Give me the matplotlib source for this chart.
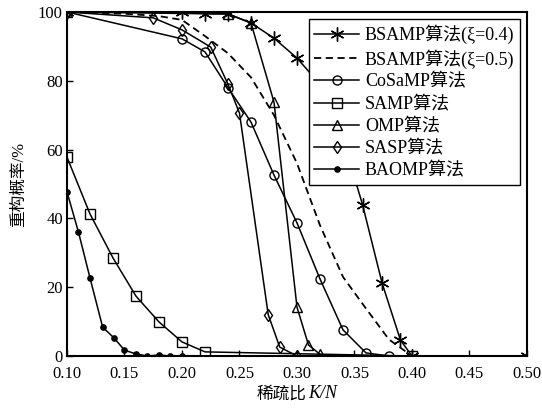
import matplotlib
matplotlib.use('Agg')
import matplotlib.pyplot as plt
from matplotlib.offsetbox import TextArea, HPacker, AnchoredOffsetbox
import numpy as np

plt.rcParams['font.family'] = ['Liberation Serif', 'Noto Sans CJK SC']

# 稀疏比 K/N 与重构概率 (%)
x_bs04 = [0.10, 0.20, 0.22, 0.24, 0.26, 0.28, 0.30, 0.32, 0.34, 0.357, 0.374, 0.39, 0.40, 0.50]
y_bs04 = [100, 100, 99.5, 99.5, 96.8, 92.4, 86.6, 79, 63, 44, 21.2, 4.6, 0, 0]

x_bs05 = [0.10, 0.15, 0.18, 0.20, 0.22, 0.24, 0.26, 0.28, 0.30, 0.32, 0.34, 0.36, 0.38, 0.40, 0.50]
y_bs05 = [100, 99.5, 98.8, 97.7, 93, 88, 81, 70, 56, 38, 23, 13.8, 4.8, 0, 0]

x_cosamp = [0.10, 0.20, 0.22, 0.24, 0.26, 0.28, 0.30, 0.32, 0.34, 0.36, 0.38]
y_cosamp = [100, 92.2, 88.4, 78, 68, 52.6, 38.7, 22.4, 7.6, 0.9, 0]

x_samp = [0.10, 0.12, 0.14, 0.16, 0.18, 0.20, 0.22, 0.40]
y_samp = [57.8, 41.3, 28.5, 17.4, 9.9, 4.1, 1.2, 0]

x_omp = [0.10, 0.24, 0.26, 0.28, 0.30, 0.31, 0.32]
y_omp = [100, 99.4, 96.8, 73.8, 14.2, 3.2, 0.5]

x_sasp = [0.10, 0.175, 0.20, 0.225, 0.24, 0.25, 0.275, 0.285, 0.30]
y_sasp = [100, 98.3, 94.8, 89.8, 79, 70.6, 12, 2.6, 0]

x_baomp = [0.10, 0.11, 0.12, 0.131, 0.141, 0.15, 0.16, 0.17, 0.18, 0.19, 0.20]
y_baomp = [47.7, 36, 22.7, 8.4, 5.2, 1.7, 0.6, 0, 0.3, 0, 0]

labels = ['BSAMP算法(ξ=0.4)', 'BSAMP算法(ξ=0.5)', 'CoSaMP算法',
          'SAMP算法', 'OMP算法', 'SASP算法', 'BAOMP算法']

fig = plt.figure(figsize=(5.42, 4.12), dpi=100)
ax = fig.add_axes([0.1236, 0.1359, 0.8487, 0.835])

lw = 1.1
ax.plot(x_bs04, y_bs04, color='k', lw=lw, marker=(6, 2, 0), ms=10, mew=1.0, label=labels[0])
ax.plot(x_bs05, y_bs05, color='k', lw=1.3, ls='--', dashes=(4, 2.5), label=labels[1])
ax.plot(x_cosamp, y_cosamp, color='k', lw=lw, marker='o', ms=6.5, mfc='none', mew=1.0, label=labels[2])
ax.plot(x_samp, y_samp, color='k', lw=lw, marker='s', ms=6.5, mfc='none', mew=1.0, label=labels[3])
ax.plot(x_omp, y_omp, color='k', lw=lw, marker='^', ms=6.5, mfc='none', mew=1.0, label=labels[4])
ax.plot(x_sasp, y_sasp, color='k', lw=lw, marker='d', ms=6.5, mfc='none', mew=1.0, label=labels[5])
ax.plot(x_baomp, y_baomp, color='k', lw=lw, marker='o', ms=3.8, mfc='k', label=labels[6])

ax.set_xlim(0.10, 0.50)
ax.set_ylim(0, 100)
ax.set_xticks(np.arange(0.10, 0.501, 0.05))
ax.set_xticklabels(['%.2f' % v for v in np.arange(0.10, 0.501, 0.05)])
ax.set_yticks([0, 20, 40, 60, 80, 100])
ax.tick_params(direction='in', length=4, width=1, labelsize=12,
               top=False, right=False)
ax.tick_params(axis='x', pad=7)
ax.tick_params(axis='y', pad=3)
for s in ax.spines.values():
    s.set_linewidth(1.5)

ax.set_ylabel('重构概率/%', fontsize=12, labelpad=8)

# x label: 稀疏比 + italic K/N
xl = HPacker(children=[TextArea('稀疏比', textprops=dict(fontsize=12)),
                       TextArea('K/N', textprops=dict(fontsize=13, style='italic'))],
             align='baseline', pad=0, sep=1)
box = AnchoredOffsetbox(loc='upper center', child=xl, pad=0, frameon=False,
                        bbox_to_anchor=(0.5, -0.085), bbox_transform=ax.transAxes,
                        borderpad=0)
ax.add_artist(box)

leg = ax.legend(loc='upper right', fontsize=13, frameon=True, fancybox=False,
                edgecolor='k', handlelength=2.5, labelspacing=0.28,
                borderpad=0.3, handletextpad=0.3, borderaxespad=0.4,
                framealpha=1)
leg.get_frame().set_linewidth(1.0)

fig.savefig('out.png', dpi=100)
